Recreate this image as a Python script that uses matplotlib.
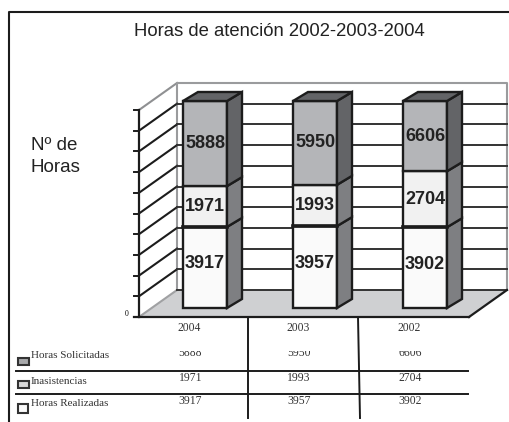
import matplotlib
matplotlib.use('Agg')
import matplotlib.pyplot as plt
from matplotlib.patches import Polygon, Rectangle

W, H = 509, 422

years = ['2004', '2003', '2002']
realizadas = [3917, 3957, 3902]
inasistencias = [1971, 1993, 2704]
solicitadas = [5888, 5950, 6606]
series_names = ['Horas Solicitadas', 'Inasistencias', 'Horas Realizadas']
y_ticks = list(range(0, 11000, 1000))
y_max = 10000

front_col = ['#fafafa', '#f1f1f1', '#b4b5b8']
side_col = ['#7e7f82', '#7e7f82', '#636467']
top_col = '#636467'
dark = '#1c1c1c'

fig = plt.figure(figsize=(W / 100, H / 100), dpi=100)

# whole figure axes in pixels, for frame, title and table
bg = fig.add_axes([0, 0, 1, 1])
bg.set_xlim(0, W)
bg.set_ylim(H, 0)
bg.axis('off')

# plot axes: x 0..3 categories, y 0..10000 hours
L, R, T, B = 139, 469, 110, 317
ax = fig.add_axes([L / W, 1 - B / H, (R - L) / W, (B - T) / H])
ax.set_xlim(0, 3)
ax.set_ylim(0, y_max)
ax.axis('off')

px = 3 / (R - L)
py = y_max / (B - T)


def off(x, y, dx, dy):
    # shift a data point by a pixel offset (depth of the fake 3D)
    return (x + dx * px, y - dy * py)


wall_dx, wall_dy = 38, -27

# floor
ax.add_patch(Polygon([off(0, 0, 0, 0), off(3, 0, 0, 0), off(3, 0, wall_dx, wall_dy), off(0, 0, wall_dx, wall_dy)],
                     closed=True, fc='#cfd0d2', ec='none', clip_on=False, zorder=1))
# walls
ax.plot([off(0, 0, 0, 0)[0], off(0, 0, wall_dx, wall_dy)[0]], [0, off(0, 0, wall_dx, wall_dy)[1]],
        color='#a0a1a3', lw=1.5, clip_on=False, zorder=2)
ax.plot([off(0, y_max, 0, 0)[0], off(0, y_max, wall_dx, wall_dy)[0]], [y_max, off(0, y_max, wall_dx, wall_dy)[1]],
        color='#8f9092', lw=1.5, clip_on=False, zorder=2)
bx0, by0 = off(0, 0, wall_dx, wall_dy)
bx1, by1 = off(3, y_max, wall_dx, wall_dy)
ax.plot([bx0, bx0, bx1, bx1], [by0, by1, by1, by0], color='#9a9b9d', lw=1.5, clip_on=False, zorder=2)

# gridlines on side wall and back wall
for t in y_ticks[:-1]:
    xb, yb = off(0, t, wall_dx, wall_dy)
    xe, _ = off(3, t, wall_dx, wall_dy)
    if t > 0:
        ax.plot([0, xb], [t, yb], color=dark, lw=1.5, clip_on=False, zorder=2)
    ax.plot([xb, xe], [yb, yb], color='#333333', lw=1.4, clip_on=False, zorder=2)

# front axis with ticks
ax.plot([0, 0], [0, y_max], color=dark, lw=1.6, clip_on=False, zorder=6)
ax.plot([off(0, 0, -5, 0)[0], 3], [0, 0], color=dark, lw=1.6, clip_on=False, zorder=6)
ax.plot([3, off(3, 0, wall_dx, wall_dy)[0]], [0, off(3, 0, wall_dx, wall_dy)[1]], color=dark, lw=1.6, clip_on=False, zorder=6)
for t in y_ticks[1:]:
    ax.plot([off(0, t, -5, 0)[0], 0], [t, t], color=dark, lw=1.4, clip_on=False, zorder=6)
ax.text(off(0, 0, -12, 0)[0], off(0, 0, 0, -3)[1], '0', fontsize=5.5, family='Liberation Serif',
        ha='center', va='center', clip_on=False)

# stacked bars, cut at the axis maximum like the original
shift_x, shift_y = 11, -9
bar_w = 44
dep_x, dep_y = 15, -9
stacks = [realizadas, inasistencias, solicitadas]
nudge = [3.5, 0, 0]
for i in range(len(years)):
    base = 0
    xc = i + 0.5 + shift_x * px
    x0 = xc - bar_w * px / 2
    x1 = xc + bar_w * px / 2
    for s, vals in enumerate(stacks):
        top = min(base + vals[i], y_max)
        y0 = base - shift_y * py
        y1 = top - shift_y * py
        ax.bar(xc, y1 - y0, bottom=y0, width=bar_w * px, color=front_col[s], edgecolor=dark, linewidth=1.7,
               clip_on=False, zorder=4)
        ax.add_patch(Polygon([(x1, y0), off(x1, y0, dep_x, dep_y), off(x1, y1, dep_x, dep_y), (x1, y1)],
                             closed=True, fc=side_col[s], ec=dark, lw=1.7, clip_on=False, zorder=4))
        ax.text(xc, (y0 + y1) / 2 + nudge[s] * py, str(vals[i]), fontsize=13, fontweight='bold',
                family='Liberation Sans', ha='center', va='center', color='#222222', clip_on=False, zorder=5)
        if s == 0:
            # heavier seam above the bottom segment
            ax.plot([x0, x1], [y1, y1], color=dark, lw=2.6, clip_on=False, zorder=4.5)
        base = top
    y1 = base - shift_y * py
    ax.add_patch(Polygon([(x0, y1), off(x0, y1, dep_x, dep_y), off(x1, y1, dep_x, dep_y), (x1, y1)],
                         closed=True, fc=top_col, ec=dark, lw=1.7, clip_on=False, zorder=4))

# frame
bg.plot([9, 9, 509], [422, 12, 12], color=dark, lw=1.5, clip_on=False)

# titles
bg.text(279.5, 32, 'Horas de atención 2002-2003-2004', fontsize=13.3, family='Liberation Sans',
        ha='center', va='center', color='#222222')
bg.text(31, 146, 'Nº de', fontsize=13.5, family='Liberation Sans', ha='left', va='center', color='#222222')
bg.text(31, 167, 'Horas', fontsize=13.5, family='Liberation Sans', ha='left', va='center', color='#222222')

# data table below the plot
bg.plot([16, 468], [371, 371], color=dark, lw=1.4)
bg.plot([16, 468], [394, 394], color=dark, lw=1.4)
bg.plot([248, 248], [317, 418], color=dark, lw=1.4)
bg.plot([358, 360], [317, 418], color=dark, lw=1.4)

col_x = [189, 298, 409]
val_x = [190.5, 299, 410]
row_y = [353, 378, 401.5]
label_y = [356, 381.5, 404]
rows = [solicitadas, inasistencias, realizadas]
box_col = ['#a8a9ab', '#d8d8d8', '#fafafa']
box_xywh = [(18.5, 358, 10.5, 7), (18.5, 381, 10.5, 7), (18.5, 404, 10, 9)]
for j in range(len(years)):
    bg.text(col_x[j], 328, years[j], fontsize=8.4, family='Liberation Serif', ha='center', va='center', color='#333333')
for r, name in enumerate(series_names):
    x, y, w, h = box_xywh[r]
    bg.add_patch(Rectangle((x, y), w, h, fc=box_col[r], ec='#333333', lw=1.5))
    bg.text(31, label_y[r], name, fontsize=8, family='Liberation Serif', ha='left', va='center', color='#333333')
    for j in range(len(years)):
        t = bg.text(val_x[j], row_y[r], str(rows[r][j]), fontsize=8.4, family='Liberation Serif', ha='center',
                    va='center', color='#333333')
        if r == 0:
            # first row is cut off at top and bottom in the original
            t.set_clip_on(True)
            t.set_clip_path(Rectangle((0, 350.5), W, 5, transform=bg.transData))

fig.savefig('out.png', dpi=100)
